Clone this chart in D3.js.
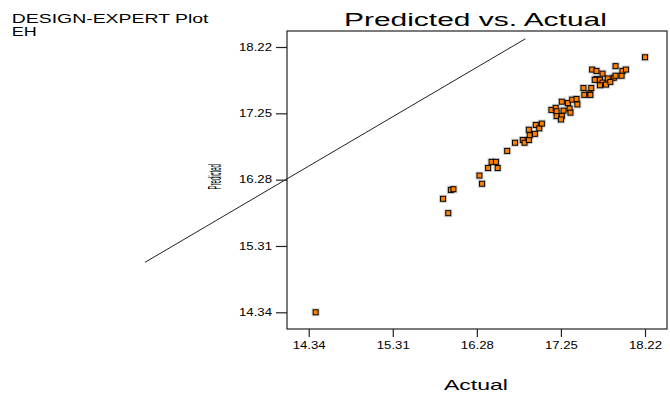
<!DOCTYPE html>
<html>
<head>
<meta charset="utf-8">
<script src="https://cdn.jsdelivr.net/npm/d3@7"></script>
<style>
  body { margin: 0; background: #fff; }
  text { font-family: "Liberation Sans", Arial, sans-serif; fill: #000; }
</style>
</head>
<body>
<svg id="chart"></svg>
<script>
const WIDTH = 670;
const HEIGHT = 393;

// tick values shared by both axes
const TICKS = [14.34, 15.31, 16.28, 17.25, 18.22];

// actual (x) and predicted (y) values
const actual = [
  14.42, 15.89, 15.95, 15.98, 16.01, 16.31, 16.34, 16.41, 16.45, 16.50,
  16.52, 16.63, 16.72, 16.81, 16.83, 16.88, 16.89, 16.88, 16.95, 16.96,
  17.00, 17.03, 17.14, 17.19, 17.20, 17.20, 17.26, 17.25, 17.26, 17.28,
  17.33, 17.35, 17.36, 17.38, 17.43, 17.44, 17.51, 17.52, 17.58, 17.60,
  17.59, 17.61, 17.66, 17.73, 17.66, 17.64, 17.70, 17.79, 17.86, 17.73,
  17.70, 17.77, 17.82, 17.88, 17.96, 18.00, 17.95, 17.88, 18.22
];
const predicted = [
  14.34, 16.00, 15.79, 16.13, 16.14, 16.34, 16.22, 16.45, 16.54, 16.54,
  16.45, 16.70, 16.82, 16.86, 16.82, 16.86, 16.93, 17.01, 16.95, 17.08,
  17.03, 17.10, 17.30, 17.33, 17.28, 17.21, 17.21, 17.16, 17.42, 17.29,
  17.40, 17.32, 17.26, 17.45, 17.46, 17.38, 17.62, 17.52, 17.54, 17.62,
  17.52, 17.89, 17.87, 17.83, 17.75, 17.74, 17.74, 17.76, 17.77, 17.70,
  17.66, 17.67, 17.71, 17.94, 17.87, 17.89, 17.80, 17.80, 18.07
];

// the reference line, as drawn in the original (end points in data units)
const lineX = [12.45, 16.84];
const lineY = [15.07, 18.34];

const svg = d3.select("#chart").attr("width", WIDTH).attr("height", HEIGHT);

const box = { left: 287, right: 667, top: 31, bottom: 329 };

const x = d3.scaleLinear().domain([14.34, 18.22]).range([308.7, 645]);
const y = d3.scaleLinear().domain([14.34, 18.22]).range([312.3, 47]);

// plot frame
svg.append("rect")
  .attr("x", box.left).attr("y", box.top)
  .attr("width", box.right - box.left).attr("height", box.bottom - box.top)
  .attr("fill", "none").attr("stroke", "#222").attr("stroke-width", 1.2);

// axes
const xAxis = svg.append("g")
  .attr("transform", `translate(0,${box.bottom})`)
  .call(d3.axisBottom(x).tickValues(TICKS).tickFormat(d3.format(".2f"))
    .tickSizeInner(8).tickSizeOuter(0).tickPadding(5));

const yAxis = svg.append("g")
  .attr("transform", `translate(${box.left},0)`)
  .call(d3.axisLeft(y).tickValues(TICKS).tickFormat(d3.format(".2f"))
    .tickSizeInner(11).tickSizeOuter(0).tickPadding(4));

[xAxis, yAxis].forEach((g) => {
  g.select(".domain").remove();
  g.selectAll(".tick line").attr("stroke", "#222").attr("stroke-width", 1.2);
  g.selectAll(".tick text")
    .attr("font-size", 10)
    .attr("font-family", "Liberation Sans, Arial, sans-serif")
    .attr("fill", "#000")
    .attr("textLength", 33)
    .attr("lengthAdjust", "spacingAndGlyphs");
});

// reference line
svg.append("line")
  .attr("x1", x(lineX[0])).attr("y1", y(lineY[0]))
  .attr("x2", x(lineX[1])).attr("y2", y(lineY[1]))
  .attr("stroke", "#222").attr("stroke-width", 1);

// points
const pts = svg.append("g");
const data = actual.map((a, i) => ({ a, p: predicted[i] }));

pts.selectAll("rect.halo")
  .data(data)
  .join("rect")
  .attr("class", "halo")
  .attr("x", (d) => x(d.a) - 3.5).attr("y", (d) => y(d.p) - 3.5)
  .attr("width", 7).attr("height", 7)
  .attr("fill", "none").attr("stroke", "#999").attr("stroke-opacity", 0.5);

pts.selectAll("rect.pt")
  .data(data)
  .join("rect")
  .attr("class", "pt")
  .attr("x", (d) => x(d.a) - 2.5).attr("y", (d) => y(d.p) - 2.5)
  .attr("width", 5).attr("height", 5)
  .attr("fill", "#ff8000").attr("stroke", "#000").attr("stroke-width", 1);

// texts are stretched/squeezed horizontally in the original, so fit them by scaling
function fitted(x0, y0, size, width, str, rotate) {
  const t = svg.append("text").attr("font-size", size).text(str);
  const w = t.node().getComputedTextLength();
  const sx = width / w;
  t.attr("transform", `translate(${x0},${y0})${rotate ? " rotate(-90)" : ""} scale(${sx},1)`);
  return t;
}

fitted(344, 26, 19, 263, "Predicted vs. Actual");
fitted(11.7, 22.7, 12.5, 197, "DESIGN-EXPERT Plot");
fitted(11.7, 36, 12.5, 25, "EH");
fitted(444, 390, 14, 64, "Actual");
fitted(221, 189.5, 19, 25.5, "Predicted", true);
</script>
</body>
</html>
